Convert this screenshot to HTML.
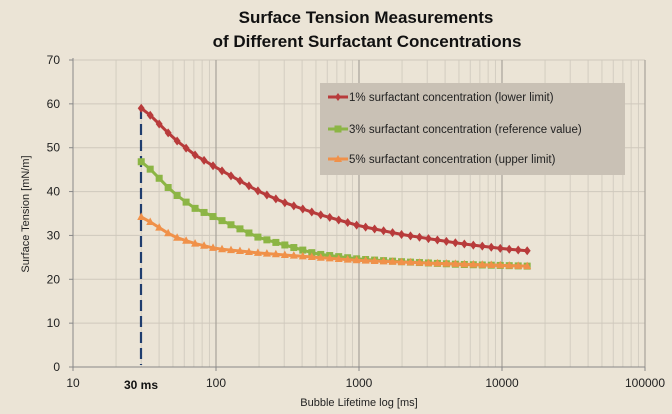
<!DOCTYPE html>
<html><head><meta charset="utf-8"><style>
html,body{margin:0;padding:0;background:#ece5d8;}
svg{display:block;font-family:"Liberation Sans",sans-serif;}
</style></head><body>
<svg id="c" width="672" height="414" xmlns="http://www.w3.org/2000/svg">
<rect width="672" height="414" fill="#ebe4d6"/>
<g id="grid"></g>
<text x="366" y="23" font-size="17" font-weight="bold" text-anchor="middle" fill="#111">Surface Tension Measurements</text>
<text x="367" y="47" font-size="17" font-weight="bold" text-anchor="middle" fill="#111">of Different Surfactant Concentrations</text>
<text transform="translate(29,214) rotate(-90)" font-size="11" text-anchor="middle" fill="#222">Surface Tension [mN/m]</text>
<text x="359" y="406" font-size="11" text-anchor="middle" fill="#222">Bubble Lifetime log [ms]</text>
<text x="141" y="389" font-size="12" font-weight="bold" text-anchor="middle" fill="#111">30 ms</text>
<line x1="141" y1="108" x2="141" y2="365" stroke="#1f3d6e" stroke-width="2.2" stroke-dasharray="11,5"/>
<g id="series"></g>
<rect x="320" y="83" width="305" height="92" fill="#c9c1b5"/>
<g font-size="11.5" fill="#222">
<line x1="328" y1="97" x2="348" y2="97" stroke="#b83b3b" stroke-width="3"/><path d="M338 93l3 4-3 4-3-4z" fill="#b83b3b"/>
<text x="349" y="101">1% surfactant concentration (lower limit)</text>
<line x1="328" y1="129" x2="348" y2="129" stroke="#8cb545" stroke-width="3"/><rect x="334.5" y="125.5" width="7" height="7" fill="#8cb545"/>
<text x="349" y="133">3% surfactant concentration (reference value)</text>
<line x1="328" y1="159" x2="348" y2="159" stroke="#f0914a" stroke-width="3"/><path d="M338 155l4 7h-8z" fill="#f0914a"/>
<text x="349" y="163">5% surfactant concentration (upper limit)</text>
</g>
</svg>
<script>
(function(){
var NS="http://www.w3.org/2000/svg";
function X(t){return 73+143*Math.log10(t/10);}
function Y(v){return 367-v*307/70;}
function el(p,n,a){var e=document.createElementNS(NS,n);for(var k in a)e.setAttribute(k,a[k]);p.appendChild(e);return e;}
var g=document.getElementById('grid');
for(var d=10;d<100000;d*=10){for(var m=2;m<10;m++){var x=X(d*m);el(g,'line',{x1:x,y1:60,x2:x,y2:367,stroke:'#d3cdc1','stroke-width':1});}}
for(var v=10;v<=70;v+=10){el(g,'line',{x1:73,y1:Y(v),x2:645,y2:Y(v),stroke:'#cfc8bc','stroke-width':1});}
for(var d=100;d<=100000;d*=10){el(g,'line',{x1:X(d),y1:60,x2:X(d),y2:367,stroke:'#a8a39a','stroke-width':1.2});}
el(g,'line',{x1:73,y1:58,x2:73,y2:367,stroke:'#888','stroke-width':1});
el(g,'line',{x1:73,y1:367,x2:645,y2:367,stroke:'#888','stroke-width':1});
for(var v=0;v<=70;v+=10){el(g,'line',{x1:69,y1:Y(v),x2:73,y2:Y(v),stroke:'#888'});var t=el(g,'text',{x:60,y:Y(v)+4,'font-size':12,'text-anchor':'end',fill:'#222'});t.textContent=v;}
var labs=[[10,'10'],[100,'100'],[1000,'1000'],[10000,'10000'],[100000,'100000']];
labs.forEach(function(l){el(g,'line',{x1:X(l[0]),y1:367,x2:X(l[0]),y2:371,stroke:'#888'});var t=el(g,'text',{x:X(l[0]),y:387,'font-size':12,'text-anchor':'middle',fill:'#222'});t.textContent=l[1];});
function interp(a,t){var lt=Math.log10(t);for(var i=0;i<a.length-1;i++){var l0=Math.log10(a[i][0]),l1=Math.log10(a[i+1][0]);if(lt<=l1){var f=(lt-l0)/(l1-l0);return a[i][1]+f*(a[i+1][1]-a[i][1]);}}return a[a.length-1][1];}
var S=[
 {c:'#b83b3b',m:'d',a:[[30,59],[35,57.3],[50,52.3],[70,48.5],[100,45.5],[200,40],[300,37.5],[500,35],[1000,32.2],[2000,30.2],[5000,28.2],[10000,27],[15000,26.5]]},
 {c:'#8cb545',m:'s',a:[[30,46.8],[35,45],[50,39.8],[70,36.3],[100,34],[200,29.5],[500,25.8],[1000,24.6],[2000,24],[5000,23.4],[15000,23]]},
 {c:'#f0914a',m:'t',a:[[30,34.2],[35,33],[50,29.8],[70,28.2],[100,27],[200,26],[500,25],[1000,24.3],[3000,23.7],[15000,23]]}];
var sg=document.getElementById('series');
S.forEach(function(s){var pts=[],N=44;for(var i=0;i<N;i++){var t=30*Math.pow(500,i/(N-1));pts.push([X(t),Y(interp(s.a,t))]);}
 el(sg,'polyline',{points:pts.map(function(p){return p[0].toFixed(1)+','+p[1].toFixed(1);}).join(' '),fill:'none',stroke:s.c,'stroke-width':3});
 pts.forEach(function(p){var x=p[0],y=p[1];if(s.m=='d')el(sg,'path',{d:'M'+x+' '+(y-4.5)+'l3.5 4.5-3.5 4.5-3.5-4.5z',fill:s.c});else if(s.m=='s')el(sg,'rect',{x:x-3.5,y:y-3.5,width:7,height:7,fill:s.c});else el(sg,'path',{d:'M'+x+' '+(y-4.5)+'l4 7.5h-8z',fill:s.c});});});
})();
</script>
</body></html>
